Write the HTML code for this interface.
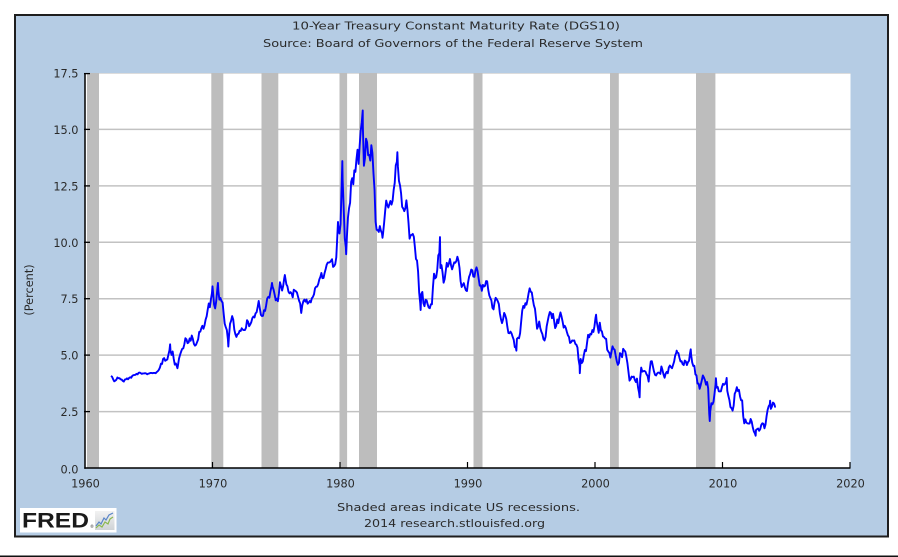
<!DOCTYPE html>
<html>
<head>
<meta charset="utf-8">
<style>
html,body{margin:0;padding:0;background:#fff;}
body{width:898px;height:557px;overflow:hidden;}
svg{display:block;}
text{font-family:"DejaVu Sans","Liberation Sans",sans-serif;fill:#2a2a2a;}
</style>
</head>
<body>
<svg width="898" height="557" viewBox="0 0 898 557" xmlns="http://www.w3.org/2000/svg">
  <defs>
    <linearGradient id="ig" x1="0" y1="0" x2="0" y2="1">
      <stop offset="0" stop-color="#f2f2f2"/>
      <stop offset="1" stop-color="#cfd3d6"/>
    </linearGradient>
  </defs>
  <!-- outer panel -->
  <rect x="15" y="15" width="873" height="521.5" fill="#b5cce4" stroke="#1e1e1e" stroke-width="2"/>
  <!-- bottom rule -->
  <rect x="0" y="555.5" width="898" height="1.5" fill="#111"/>

  <!-- title -->
  <text x="292" y="29.5" font-size="11" textLength="328" lengthAdjust="spacingAndGlyphs">10-Year Treasury Constant Maturity Rate (DGS10)</text>
  <text x="263" y="47" font-size="11" textLength="380" lengthAdjust="spacingAndGlyphs">Source: Board of Governors of the Federal Reserve System</text>

  <!-- plot area -->
  <rect x="85" y="73" width="765.5" height="395" fill="#ffffff"/>

  <!-- gridlines -->
  <g stroke="#c2c2c2" stroke-width="1.5">
    <line x1="85" y1="411.6" x2="850.5" y2="411.6"/>
    <line x1="85" y1="355.1" x2="850.5" y2="355.1"/>
    <line x1="85" y1="298.7" x2="850.5" y2="298.7"/>
    <line x1="85" y1="242.3" x2="850.5" y2="242.3"/>
    <line x1="85" y1="185.9" x2="850.5" y2="185.9"/>
    <line x1="85" y1="129.4" x2="850.5" y2="129.4"/>
    <line x1="85" y1="73.5" x2="850.5" y2="73.5" stroke="#dcdcdc" stroke-width="1"/>
  </g>

  <!-- recession bands -->
  <g fill="#bdbdbd">
    <rect x="87" y="73" width="12" height="395"/>
    <rect x="211.3" y="73" width="12" height="395"/>
    <rect x="261.5" y="73" width="16.8" height="395"/>
    <rect x="339.5" y="73" width="7.6" height="395"/>
    <rect x="359" y="73" width="18" height="395"/>
    <rect x="473.5" y="73" width="9" height="395"/>
    <rect x="610" y="73" width="8.8" height="395"/>
    <rect x="696" y="73" width="19.4" height="395"/>
  </g>

  <!-- data -->
  <g transform="matrix(1.0625,0,0,-22.571,85.53,468)">
    <polyline fill="none" stroke="#0000ff" stroke-width="1.9" vector-effect="non-scaling-stroke" stroke-linejoin="round" points="
24,4.08 25,4.04 26,3.93 27,3.84 28,3.87 29,3.91 30,4.01 31,3.98 32,3.98 33,3.93 34,3.92 35,3.86
36,3.83 37,3.92 38,3.93 39,3.97 40,3.93 41,3.99 42,4.02 43,4.00 44,4.08 45,4.11 46,4.12 47,4.13
48,4.17 49,4.15 50,4.22 51,4.23 52,4.20 53,4.17 54,4.19 55,4.19 56,4.20 57,4.19 58,4.15 59,4.18
60,4.19 61,4.21 62,4.21 63,4.20 64,4.21 65,4.21 66,4.20 67,4.25 68,4.29 69,4.35 70,4.45 71,4.62
72,4.61 73,4.83 74,4.87 75,4.75 76,4.78 77,4.81 78,5.02 79,5.22 79.6,5.48 80,5.18 81,5.01 82,5.16 83,4.84
84,4.58 85,4.63 86,4.50 86.5,4.42 87,4.55 88,4.85 89,5.02 90,5.16 91,5.28 92,5.30 93,5.48 94,5.75 95,5.70
96,5.53 97,5.56 98,5.74 99,5.64 100,5.87 101,5.72 102,5.50 103,5.42 104,5.46 105,5.58 106,5.70 107,6.03
108,6.04 109,6.19 110,6.30 111,6.17 112,6.32 113,6.57 114,6.72 115,7.02 116,7.29 117,7.12 118,7.47 119,7.75 119.5,8.05
120,7.79 121,7.24 122,7.07 123,7.39 124,7.91 124.6,8.2 125,7.84 126,7.46 127,7.53 128,7.39 129,7.33 130,6.84 131,6.39
132,6.24 133,6.11 134,5.70 134.4,5.38 135,5.83 136,6.39 137,6.52 138,6.73 139,6.58 140,6.14 141,5.93 142,5.81 143,5.93
144,5.95 145,6.08 146,6.07 147,6.19 148,6.13 149,6.11 150,6.11 151,6.21 152,6.55 153,6.48 154,6.28 155,6.36
156,6.46 157,6.64 158,6.71 159,6.67 160,6.85 161,6.90 162,7.13 163,7.40 164,7.09 165,6.79 166,6.73 167,6.74
168,6.99 169,6.96 170,7.21 171,7.51 172,7.58 173,7.54 174,7.81 175,8.04 175.5,8.2 176,8.04 177,7.90 178,7.68 179,7.43
180,7.50 181,7.39 182,7.73 183,8.23 184,8.06 185,7.86 186,8.06 187,8.40 187.6,8.55 188,8.43 189,8.14 190,8.05 191,7.81
192,7.74 193,7.79 194,7.73 195,7.56 196,7.90 197,7.86 198,7.83 199,7.77 200,7.59 201,7.41 202,7.29 203,6.87
204,7.21 205,7.39 206,7.46 207,7.37 208,7.46 209,7.28 210,7.33 211,7.40 212,7.34 213,7.52 214,7.58 215,7.69
216,7.96 217,8.03 218,8.04 219,8.15 220,8.35 221,8.46 222,8.64 223,8.41 224,8.42 225,8.64 226,8.81 227,9.01
228,9.10 229,9.10 230,9.12 231,9.18 232,9.25 233,8.91 234,8.95 235,9.03 236,9.33 237,10.30 237.6,10.9 238,10.65 239,10.39
240,10.80 241,12.41 241.7,13.6 242,12.75 243,11.47 244,10.18 245,9.78 245.3,9.47 246,10.25 247,11.10 248,11.51 249,11.75 250,12.68 251,12.84
252,12.57 253,13.19 254,13.12 255,13.68 256,14.10 257,13.47 258,14.28 259,14.94 260,15.32 260.9,15.84 261,15.15 262,13.39 263,13.72
264,14.59 265,14.43 266,13.86 267,13.87 268,13.62 269,14.30 270,13.95 271,13.06 272,12.34 273,10.91 274,10.55 275,10.54
276,10.46 277,10.72 278,10.51 279,10.40 279.5,10.2 280,10.38 281,10.85 282,11.38 283,11.85 284,11.65 285,11.54 286,11.69 287,11.83
288,11.67 289,11.84 290,12.32 291,12.63 292,13.41 293,13.56 293.5,13.99 294,13.36 295,12.72 296,12.52 297,12.16 298,11.57 299,11.50
300,11.38 301,11.51 302,11.86 303,11.43 304,10.85 305,10.16 306,10.31 307,10.33 308,10.37 309,10.24 310,9.78 311,9.26
312,9.19 313,8.70 314,7.78 315,7.30 315.4,7.0 316,7.71 317,7.80 318,7.30 319,7.17 320,7.45 321,7.43 322,7.25 323,7.11
324,7.08 325,7.25 326,7.25 327,8.02 328,8.61 329,8.40 330,8.45 331,8.76 332,9.42 333,9.52 333.6,10.23 334,8.86 335,8.99
336,8.67 337,8.21 338,8.37 339,8.72 340,9.09 341,8.92 342,9.06 343,9.26 344,8.98 345,8.80 346,8.96 347,9.11
348,9.09 349,9.17 350,9.36 351,9.18 352,8.86 353,8.28 354,8.02 355,8.11 356,8.19 357,8.01 358,7.87 359,7.84
360,8.21 361,8.47 362,8.59 363,8.79 364,8.76 365,8.48 366,8.47 367,8.75 368,8.89 369,8.72 370,8.39 371,8.08
372,8.09 373,7.85 374,8.11 375,8.04 376,8.07 377,8.28 378,8.27 379,7.90 380,7.65 381,7.53 382,7.42 383,7.09
384,7.03 385,7.34 386,7.54 387,7.48 388,7.39 389,7.26 390,6.84 391,6.59 392,6.42 393,6.59 394,6.87 395,6.77
396,6.60 397,6.26 398,5.98 399,5.97 400,6.04 401,5.96 402,5.81 403,5.68 404,5.36 405,5.33 405.5,5.2 406,5.72 407,5.77
408,5.75 409,5.97 410,6.48 411,6.97 412,7.18 413,7.10 414,7.30 415,7.24 416,7.46 417,7.74 418,7.96 419,7.81
420,7.78 421,7.47 422,7.20 423,7.06 424,6.63 425,6.17 426,6.28 427,6.49 428,6.20 429,6.04 430,5.93 431,5.71
432,5.65 433,5.81 434,6.27 435,6.51 436,6.74 437,6.91 438,6.87 439,6.64 440,6.83 441,6.53 442,6.20 443,6.30
444,6.58 445,6.42 446,6.69 447,6.89 448,6.71 449,6.49 450,6.22 451,6.30 452,6.21 453,6.03 454,5.88 455,5.81
456,5.54 457,5.57 458,5.65 459,5.64 460,5.65 461,5.50 462,5.46 463,5.34 464,4.81 465,4.53 465.2,4.2 466,4.83 467,4.65
468,4.72 469,5.00 470,5.23 471,5.18 472,5.54 473,5.90 474,5.79 475,5.94 476,5.92 477,6.11 478,6.03 479,6.28
480,6.66 480.5,6.79 481,6.52 482,6.26 483,5.99 484,6.44 485,6.10 486,6.05 487,5.83 488,5.80 489,5.74 490,5.72 491,5.24
492,5.16 493,5.10 494,4.89 495,5.14 496,5.39 497,5.28 498,5.24 499,4.97 500,4.73 501,4.57 502,4.65 503,5.09
504,5.04 505,4.91 506,5.28 507,5.21 508,5.16 509,4.93 510,4.65 511,4.26 512,3.87 513,3.94 514,4.05 515,4.03
516,4.05 517,3.90 518,3.81 519,3.96 520,3.57 521,3.33 521.5,3.13 522,3.98 523,4.45 524,4.27 525,4.29 526,4.30 527,4.27
528,4.15 529,4.08 530,3.83 531,4.35 532,4.72 533,4.73 534,4.50 535,4.28 536,4.13 537,4.10 538,4.19 539,4.23
540,4.22 541,4.17 542,4.50 543,4.34 544,4.14 545,4.00 546,4.18 547,4.26 548,4.20 549,4.46 550,4.54 551,4.47
552,4.42 553,4.57 554,4.72 555,4.99 556,5.11 556.4,5.2 557,5.11 558,5.09 559,4.88 560,4.72 561,4.73 562,4.60 563,4.56
564,4.76 565,4.72 566,4.56 567,4.69 568,4.75 569,5.10 569.6,5.26 570,5.00 571,4.67 572,4.52 573,4.53 574,4.15 575,4.10
576,3.74 577,3.74 578,3.51 579,3.68 580,3.88 581,4.10 582,4.01 583,3.89 584,3.69 585,3.81 586,3.53 587,2.42 587.5,2.08
588,2.52 589,2.87 590,2.82 591,2.93 592,3.29 593,3.72 593.3,3.98 594,3.56 595,3.59 596,3.40 597,3.39 598,3.40 599,3.59
600,3.73 601,3.69 602,3.73 603,3.85 603.4,3.99 604,3.42 605,3.20 606,3.01 607,2.70 608,2.65 609,2.54 610,2.76 611,3.29
612,3.39 613,3.58 614,3.41 615,3.46 616,3.17 617,3.00 618,3.00 619,2.30 620,1.98 621,2.15 622,2.01 623,1.98
624,1.97 625,1.97 626,2.17 627,2.05 628,1.80 629,1.62 630,1.53 630.7,1.43 631,1.68 632,1.72 633,1.75 634,1.65 635,1.72
636,1.91 637,1.98 638,1.96 639,1.76 640,1.93 641,2.30 642,2.58 643,2.74 644,2.81 644.3,2.98 645,2.62 646,2.72 647,2.90
648,2.86 649,2.71 649.6,2.70"/>
  </g>

  <!-- axes -->
  <g stroke="#000" stroke-width="1.5">
    <line x1="85" y1="73" x2="85" y2="468.7"/>
    <line x1="84.3" y1="468" x2="850.5" y2="468"/>
  </g>
  <!-- y ticks (inward) -->
  <g stroke="#000" stroke-width="1.3">
    <line x1="84" y1="411.6" x2="90" y2="411.6"/>
    <line x1="84" y1="355.1" x2="90" y2="355.1"/>
    <line x1="84" y1="298.7" x2="90" y2="298.7"/>
    <line x1="84" y1="242.3" x2="90" y2="242.3"/>
    <line x1="84" y1="185.9" x2="90" y2="185.9"/>
    <line x1="84" y1="129.4" x2="90" y2="129.4"/>
    <line x1="84" y1="73.6" x2="90" y2="73.6"/>
  </g>
  <!-- x ticks (inward) -->
  <g stroke="#000" stroke-width="1.2">
    <line x1="212.5" y1="462" x2="212.5" y2="468"/>
    <line x1="340" y1="462" x2="340" y2="468"/>
    <line x1="467.5" y1="462" x2="467.5" y2="468"/>
    <line x1="595" y1="462" x2="595" y2="468"/>
    <line x1="722.5" y1="462" x2="722.5" y2="468"/>
    <line x1="850" y1="462" x2="850" y2="468"/>
  </g>

  <!-- y labels -->
  <g font-size="11.3" text-anchor="end">
    <text x="78.5" y="473.3">0.0</text>
    <text x="78.5" y="416.1">2.5</text>
    <text x="78.5" y="359.6">5.0</text>
    <text x="78.5" y="303.2">7.5</text>
    <text x="78.5" y="246.8">10.0</text>
    <text x="78.5" y="190.4">12.5</text>
    <text x="78.5" y="133.9">15.0</text>
    <text x="78.5" y="77.5">17.5</text>
  </g>
  <!-- x labels -->
  <g font-size="11.3" text-anchor="middle">
    <text x="85.5" y="487.3">1960</text>
    <text x="213" y="487.3">1970</text>
    <text x="340.5" y="487.3">1980</text>
    <text x="468" y="487.3">1990</text>
    <text x="595.5" y="487.3">2000</text>
    <text x="723" y="487.3">2010</text>
    <text x="850.5" y="487.3">2020</text>
  </g>

  <!-- y axis title -->
  <text x="0" y="0" font-size="11.3" text-anchor="middle" transform="translate(33,290) rotate(-90)">(Percent)</text>

  <!-- footer -->
  <text x="337" y="511" font-size="11" textLength="243" lengthAdjust="spacingAndGlyphs">Shaded areas indicate US recessions.</text>
  <text x="364" y="527" font-size="11" textLength="181" lengthAdjust="spacingAndGlyphs">2014 research.stlouisfed.org</text>

  <!-- FRED logo -->
  <rect x="20" y="508" width="96.5" height="24.5" fill="#ffffff"/>
  <text x="22" y="527.6" font-size="21" font-weight="bold" style="font-family:'Liberation Sans','DejaVu Sans',sans-serif;fill:#1a1a1a" textLength="67" lengthAdjust="spacingAndGlyphs">FRED</text>
  <text x="90" y="528" font-size="4" style="fill:#333">®</text>
  <rect x="95" y="511" width="19.5" height="19" fill="url(#ig)"/>
  <polyline points="96,526 99,522 101,524 104,518 106,520 109,515 113,513" fill="none" stroke="#5a86c8" stroke-width="1.2"/>
  <polyline points="96,528 99,525 102,527 105,522 108,524 110,519 113,517" fill="none" stroke="#8bb84e" stroke-width="1.2"/>
</svg>
</body>
</html>
